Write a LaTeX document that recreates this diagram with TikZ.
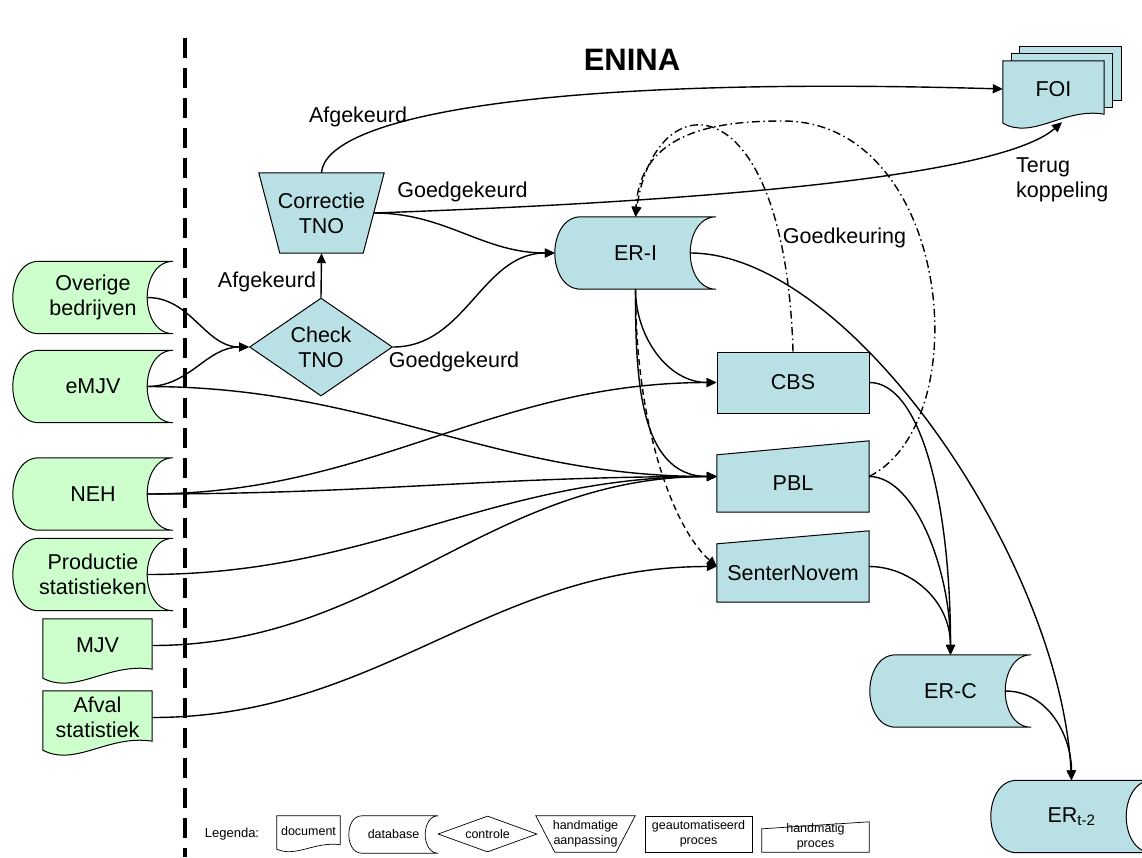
\documentclass[tikz,border=0pt]{standalone}
\usepackage{fontspec}
\setmainfont{Liberation Sans}
\usepackage{tikz}
\usetikzlibrary{calc,arrows.meta,shapes.geometric,backgrounds}

\definecolor{bronGroen}{RGB}{204,255,204}
\definecolor{tnoBlauw}{RGB}{185,224,228}

% database: bolle linkerkant, holle rechterkant
\def\dbvorm[#1](#2)(#3){\draw[#1] (#2.north east) -- ($(#2.north west)+(#3,0)$) to[out=180,in=90] (#2.west) to[out=-90,in=180] ($(#2.south west)+(#3,0)$) -- (#2.south east) to[out=180,in=-90] ($(#2.east)+(-#3,0)$) to[out=90,in=180] (#2.north east) -- cycle;}
% document: golvende onderkant
\def\docvorm[#1](#2)(#3){\draw[#1] ($(#2.south west)+(0,-6*#3)$) -- (#2.north west) -- (#2.north east) -- ($(#2.south east)+(0,3*#3)$) .. controls ($(#2.south east)!0.4!(#2.south west)+(0,10*#3)$) and ($(#2.south east)!0.7!(#2.south west)+(0,-23*#3)$) .. ($(#2.south west)+(0,-6*#3)$) -- cycle;}
% handmatige aanpassing
\def\trapvorm[#1](#2)(#3){\draw[#1] (#2.north west) -- (#2.north east) -- ($(#2.south east)+(-#3,0)$) -- ($(#2.south west)+(#3,0)$) -- cycle;}
% handmatig proces: schuine bovenkant
\def\handvorm[#1](#2)(#3){\draw[#1] (#2.south west) -- ($(#2.north west)+(0,-#3)$) -- (#2.north east) -- (#2.south east) -- cycle;}

\tikzset{
	tekst/.style={font=\fontsize{21.5}{25}\selectfont, align=center, inner sep=0pt},
	klein/.style={font=\fontsize{12.5}{14.5}\selectfont, align=center, inner sep=0pt},
	db/.style={tekst, minimum width=160pt, minimum height=72pt},
	doc/.style={tekst, minimum width=109pt, minimum height=53pt},
	proces/.style={tekst, draw, line width=1pt, fill=tnoBlauw, minimum width=152pt, minimum height=61pt},
	handproces/.style={tekst, minimum width=152pt, minimum height=71pt, text height=28pt, text depth=0pt},
	controle/.style={tekst, diamond, draw, line width=1pt, fill=tnoBlauw, aspect=1.46, minimum width=143pt, minimum height=98pt},
	aanpassing/.style={tekst, minimum width=125pt, minimum height=80pt},
	rand/.style={line width=1pt},
	pijl/.style={-{Triangle[length=10pt,width=9pt]}, line width=1.4pt},
	streeppunt/.style={dash pattern=on 8pt off 3.5pt on 1.5pt off 3.5pt},
	streep/.style={dash pattern=on 6pt off 4pt}
}

\begin{document}
\begin{tikzpicture}[x=1pt,y=1pt]
		%%%%% START %%%%%
		\useasboundingbox (0,0) rectangle (1142,-857);
		
		\draw[line width=3.5pt, dash pattern=on 20pt off 10pt] (185,-38) -- (185,-857);
		
		\node[tekst, font=\fontsize{31}{35}\selectfont\bfseries] (enina) at (632,-60) {ENINA};
		
		% bronnen
		\node[db] (ovb) at (93,-297.5) {Overige\\bedrijven};
		\node[db] (emjv) at (93,-386.5) {eMJV};
		\node[db] (neh) at (93,-494) {NEH};
		\node[db] (prod) at (93,-574.5) {Productie\\statistieken};
		\node[doc] (mjv) at (97.5,-645.5) {MJV};
		\node[doc] (afv) at (97.5,-717.5) {Afval\\statistiek};
		
		% TNO
		\node[controle] (chk) at (321,-347) {Check\\TNO};
		\node[aanpassing] (cor) at (321.5,-213) {Correctie\\TNO};
		\node[db, minimum width=161pt] (eri) at (635.5,-253) {ER-I};
		\node[doc, minimum width=101pt, minimum height=56pt] (foi) at (1053.5,-89) {FOI};
		
		% verwerkers
		\node[proces] (cbs) at (793,-382.5) {CBS};
		\node[handproces] (pbl) at (793,-476.5) {PBL};
		\node[handproces, text height=27pt] (sen) at (793,-566.5) {SenterNovem};
		\node[db, minimum width=161pt] (erc) at (950.5,-691) {ER-C};
		\node[db, minimum width=161pt] (ert) at (1071.5,-816.5) {ER\textsubscript{t-2}};
		
		% legenda
		\node[klein, font=\fontsize{13}{15}\selectfont] (legenda) at (232,-834) {Legenda:};
		\node[klein, minimum width=63pt, minimum height=30pt] (lg-doc) at (308.5,-831) {document};
		\node[klein, minimum width=89pt, minimum height=37pt] (lg-db) at (393.5,-834.5) {database};
		\node[klein, diamond, draw, line width=0.7pt, aspect=2.75, minimum width=99pt, minimum height=36pt] (lg-ctrl) at (487.5,-834) {controle};
		\node[klein, minimum width=99pt, minimum height=36pt] (lg-aanp) at (585.5,-834) {handmatige\\aanpassing};
		\node[klein, draw, line width=0.7pt, minimum width=107pt, minimum height=36pt] (lg-auto) at (698.5,-834) {geautomatiseerd\\proces};
		\node[klein, minimum width=107pt, minimum height=30pt] (lg-hand) at (815.5,-837) {handmatig\\proces};
		
		\begin{scope}[on background layer]
			\dbvorm[rand, fill=bronGroen](ovb)(26)
			\dbvorm[rand, fill=bronGroen](emjv)(26)
			\dbvorm[rand, fill=bronGroen](neh)(26)
			\dbvorm[rand, fill=bronGroen](prod)(26)
			\docvorm[rand, fill=bronGroen](mjv)(1)
			\docvorm[rand, fill=bronGroen](afv)(1)
			\trapvorm[rand, fill=tnoBlauw](cor)(21)
			\dbvorm[rand, fill=tnoBlauw](eri)(26)
			\dbvorm[rand, fill=tnoBlauw](erc)(26)
			\dbvorm[rand, fill=tnoBlauw](ert)(26)
			\handvorm[rand, fill=tnoBlauw](pbl)(14)
			\handvorm[rand, fill=tnoBlauw](sen)(13)
			\draw[rand, fill=tnoBlauw] ([shift={(17,14)}]foi.north west) rectangle ([shift={(17,17)}]foi.south east);
			\draw[rand, fill=tnoBlauw] ([shift={(9,7)}]foi.north west) rectangle ([shift={(8,10)}]foi.south east);
			\docvorm[rand, fill=tnoBlauw](foi)(1)
			\docvorm[line width=0.7pt](lg-doc)(0.5)
			\dbvorm[line width=0.7pt](lg-db)(13)
			\trapvorm[line width=0.7pt](lg-aanp)(19)
			\handvorm[line width=0.7pt](lg-hand)(7)
		\end{scope}
		
		% controle en correctie
		\draw[pijl] ([xshift=-26pt]ovb.east) to[out=0,in=180] (chk.west);
		\draw[pijl] ([xshift=-26pt]emjv.east) to[out=0,in=180] (chk.west);
		\draw[pijl] (chk.north) -- (cor.south);
		\draw[pijl] (chk.east) to[out=0,in=180] (eri.west);
		\draw[pijl] ([xshift=-10.5pt]cor.east) to[out=0,in=180] (eri.west);
		\draw[pijl] ([xshift=-10.5pt]cor.east) .. controls (600,-205) and (990,-185) .. ([xshift=8.5pt,yshift=-5pt]foi.south);
		\draw[pijl] (cor.north) .. controls (325,-120) and (520,-75) .. (foi.west);
		
		\node[tekst] (afg-boven) at (358,-117) {Afgekeurd};
		\node[tekst] (afg-links) at (267,-282) {Afgekeurd};
		\node[tekst] (goed-boven) at (462.5,-192) {Goedgekeurd};
		\node[tekst] (goed-onder) at (454,-362) {Goedgekeurd};
		\node[tekst, align=left, anchor=west] (terug) at (1016,-180) {Terug\\koppeling};
		\node[tekst] (goedkeuring) at (844.5,-238) {Goedkeuring};
		
		% bronnen naar verwerkers
		\draw[pijl] ([xshift=-26pt]emjv.east) to[out=0,in=180] (pbl.west);
		\draw[pijl] ([xshift=-26pt]neh.east) to[out=0,in=180] (cbs.west);
		\draw[pijl] ([xshift=-26pt]neh.east) to[out=0,in=180] (pbl.west);
		\draw[pijl] ([xshift=-26pt]prod.east) to[out=0,in=180] (pbl.west);
		\draw[pijl] (mjv.east) to[out=0,in=180] (pbl.west);
		\draw[pijl] (afv.east) to[out=0,in=180] (sen.west);
		
		% ER-I naar verwerkers
		\draw[pijl] (eri.south) to[out=-90,in=180] (cbs.west);
		\draw[pijl] (eri.south) to[out=-90,in=180] (pbl.west);
		\draw[pijl, streep] (eri.south) .. controls (635.5,-430) and (675,-530) .. (sen.west);
		
		% naar ER-C en ER t-2
		\draw[pijl] (cbs.east) .. controls (920,-382.5) and (950.5,-500) .. (erc.north);
		\draw[pijl] (pbl.east) .. controls (915,-476.5) and (950.5,-570) .. (erc.north);
		\draw[pijl] (sen.east) .. controls (910,-566.5) and (950.5,-600) .. (erc.north);
		\draw[pijl] ([xshift=-26pt]eri.east) .. controls (850,-253) and (1060,-560) .. (ert.north);
		\draw[pijl] ([xshift=-26pt]erc.east) to[out=0,in=90] (ert.north);
		
		% goedkeuring terug naar ER-I
		\draw[pijl, streeppunt] (cbs.north) .. controls (785,-80) and (655,-80) .. (eri.north);
		\draw[pijl, streeppunt] (pbl.east) .. controls (980,-420) and (950,-121) .. (783,-121) .. controls (720,-121) and (640,-130) .. (eri.north);
		
		%%%%% END %%%%%
\end{tikzpicture}
\end{document}
